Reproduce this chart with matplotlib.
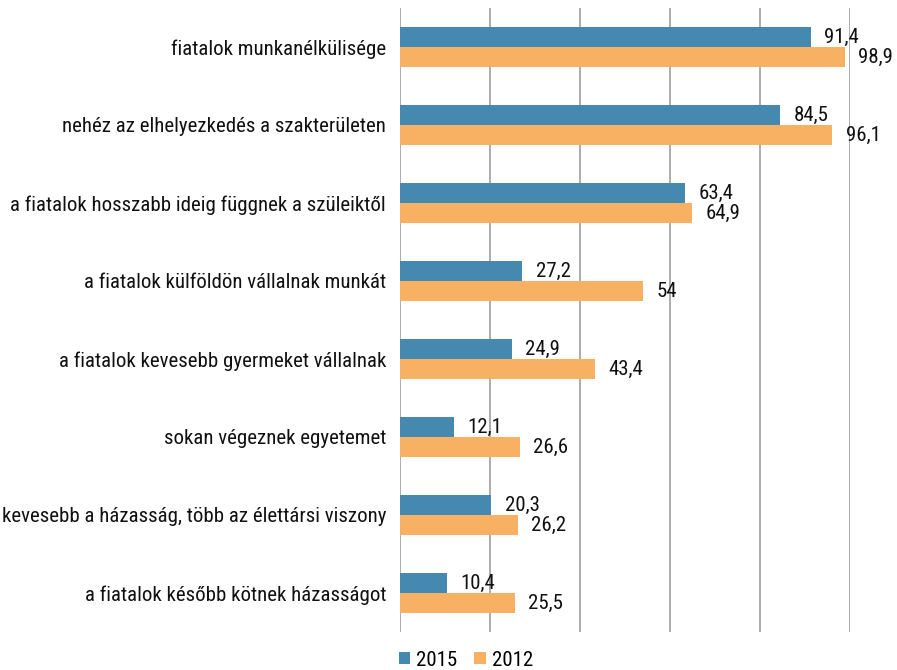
import matplotlib
matplotlib.use("Agg")
import matplotlib.pyplot as plt
from matplotlib import font_manager
import numpy as np

names = {f.name for f in font_manager.fontManager.ttflist}
fam = [f for f in ["Roboto Condensed", "Roboto", "DejaVu Sans"] if f in names]
plt.rcParams['font.family'] = fam

categories = [
    "fiatalok munkanélkülisége",
    "nehéz az elhelyezkedés a szakterületen",
    "a fiatalok hosszabb ideig függnek a szüleiktől",
    "a fiatalok külföldön vállalnak munkát",
    "a fiatalok kevesebb gyermeket vállalnak",
    "sokan végeznek egyetemet",
    "kevesebb a házasság, több az élettársi viszony",
    "a fiatalok később kötnek házasságot",
]
values_2015 = [91.4, 84.5, 63.4, 27.2, 24.9, 12.1, 20.3, 10.4]
values_2012 = [98.9, 96.1, 64.9, 54, 43.4, 26.6, 26.2, 25.5]
series_names = ["2015", "2012"]
colors = ["#4589b0", "#f8b062"]

def fmt(v):
    s = ("%.1f" % v).rstrip("0").rstrip(".")
    return s.replace(".", ",")

fs = 15
fig = plt.figure(figsize=(8.97, 6.70), dpi=100)
ax = fig.add_axes([400/897, 1-632/670, 450/897, 624/670])

y = np.arange(len(categories))
h = 0.256
b1 = ax.barh(y - h/2, values_2015, height=h, color=colors[0], label=series_names[0], zorder=3)
b2 = ax.barh(y + h/2, values_2012, height=h, color=colors[1], label=series_names[1], zorder=3)

for bars, vals in ((b1, values_2015), (b2, values_2012)):
    for rect, v in zip(bars, vals):
        ax.annotate(fmt(v), (v, rect.get_y() + rect.get_height()/2),
                    xytext=(9.5, -0.5), textcoords="offset points",
                    ha="left", va="center", fontsize=fs, color="#111111", zorder=4)

ax.set_xlim(0, 100)
ax.set_ylim(len(categories) - 0.5, -0.5)
ax.set_xticks([0, 20, 40, 60, 80, 100])
ax.xaxis.grid(True, color="#a6a6a6", linewidth=1.3, zorder=0)
ax.tick_params(axis="x", length=0, labelbottom=False)
ax.tick_params(axis="y", length=0, pad=10, labelsize=fs)
ax.set_yticks(y)
ax.set_yticklabels(categories, color="#111111")
for s in ax.spines.values():
    s.set_visible(False)

fig.legend(handles=[b1, b2], labels=series_names, loc="center",
           bbox_to_anchor=(466/897, 1-660/670), ncol=2, frameon=False,
           fontsize=fs, handlelength=0.55, handleheight=0.55, handletextpad=0.3,
           columnspacing=0.8, borderpad=0, borderaxespad=0)

fig.savefig("out.png", dpi=100)
